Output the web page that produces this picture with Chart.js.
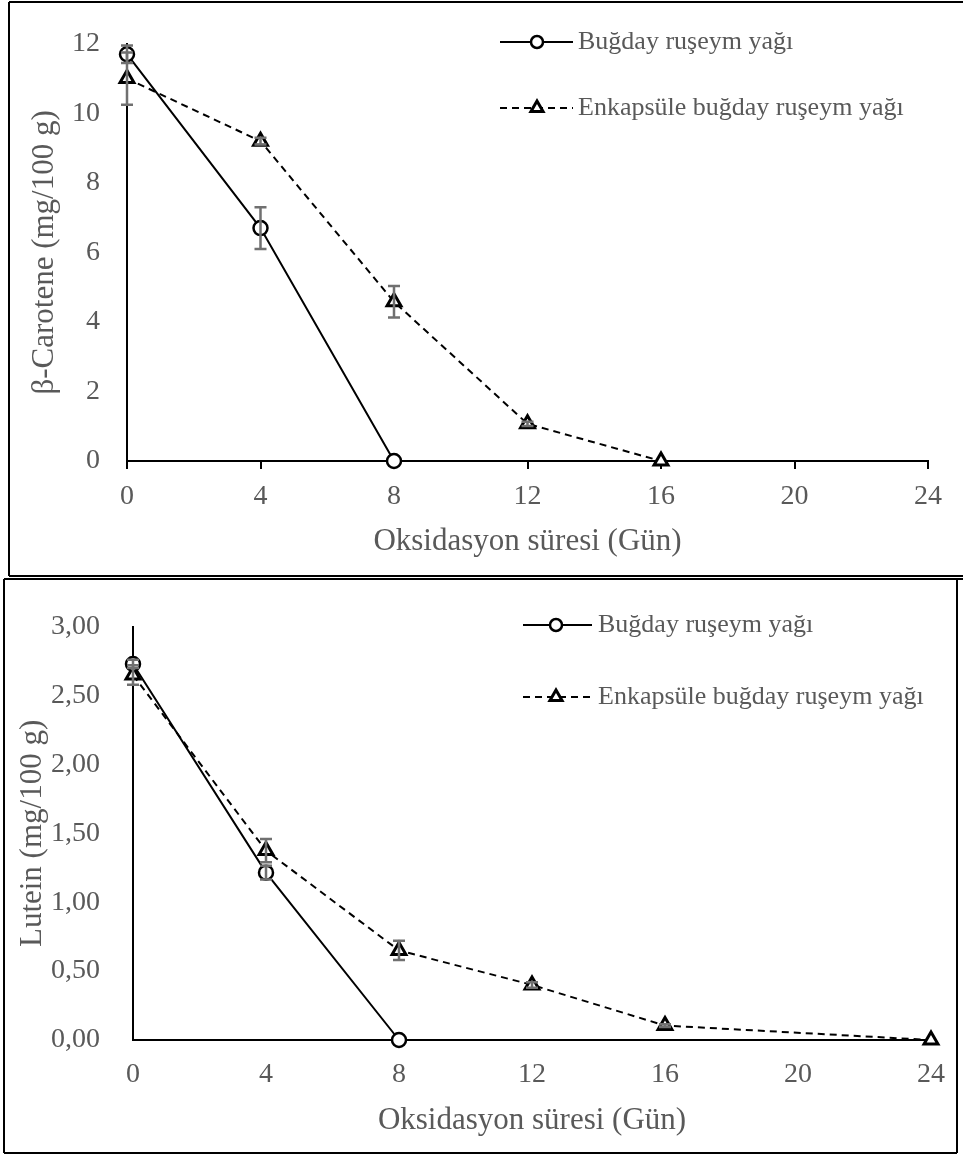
<!DOCTYPE html>
<html>
<head>
<meta charset="utf-8">
<script src="https://cdn.jsdelivr.net/npm/chart.js@4.4.1/dist/chart.umd.min.js"></script>
<style>
  body { margin: 0; background: #fff; }
  canvas { position: absolute; left: 0; }
</style>
</head>
<body>
<canvas id="caroteneChart" width="963" height="577" style="top:0"></canvas>
<canvas id="luteinChart" width="963" height="579" style="top:577px"></canvas>
<script>
// tick labels for the x axis (days)
var dayTicks = [0, 4, 8, 12, 16, 20, 24];
var legendNames = ['Buğday ruşeym yağı', 'Enkapsüle buğday ruşeym yağı'];

// beta carotene (mg/100 g)
var caroteneRawDays = [0, 4, 8];
var caroteneRaw = [11.7, 6.7, 0];
var caroteneRawErr = [0.25, 0.6, 0];
var caroteneEncDays = [0, 4, 8, 12, 16];
var caroteneEnc = [11.0, 9.2, 4.58, 1.07, 0];
var caroteneEncErr = [0.75, 0.1, 0.45, 0.06, 0];

// lutein (mg/100 g)
var luteinRawDays = [0, 4, 8];
var luteinRaw = [2.73, 1.215, 0];
var luteinRawErr = [0.03, 0.05, 0];
var luteinEncDays = [0, 4, 8, 12, 16, 24];
var luteinEnc = [2.65, 1.375, 0.65, 0.40, 0.105, 0];
var luteinEncErr = [0.07, 0.085, 0.07, 0.02, 0.01, 0];

var GREY = '#595959';
var SERIF = '"Liberation Serif", "Times New Roman", serif';

function toPoints(xs, ys) {
  return xs.map(function (x, i) { return { x: x, y: ys[i] }; });
}

// error bars, drawn over the markers like excel does
var errorBars = {
  id: 'errorBars',
  afterDatasetsDraw: function (chart) {
    var ctx = chart.ctx, ys = chart.scales.y, xs = chart.scales.x;
    ctx.save();
    ctx.strokeStyle = '#707070';
    ctx.lineWidth = 2.5;
    chart.data.datasets.forEach(function (ds) {
      if (!ds.errors) return;
      ds.data.forEach(function (p, i) {
        var e = ds.errors[i];
        if (!e) return;
        var x = xs.getPixelForValue(p.x);
        var y1 = ys.getPixelForValue(p.y - e), y2 = ys.getPixelForValue(p.y + e);
        ctx.beginPath();
        ctx.moveTo(x, y1); ctx.lineTo(x, y2);
        ctx.moveTo(x - 6, y1); ctx.lineTo(x + 6, y1);
        ctx.moveTo(x - 6, y2); ctx.lineTo(x + 6, y2);
        ctx.stroke();
      });
    });
    ctx.restore();
  }
};

// legend with line + marker sample
var sketchLegend = {
  id: 'sketchLegend',
  afterDraw: function (chart, args, opts) {
    var ctx = chart.ctx;
    ctx.save();
    chart.data.datasets.forEach(function (ds, i) {
      var y = opts.rows[i];
      ctx.strokeStyle = '#000';
      ctx.lineWidth = 2;
      ctx.setLineDash(ds.borderDash || []);
      ctx.beginPath();
      ctx.moveTo(opts.lineFrom, y);
      ctx.lineTo(opts.lineTo, y);
      ctx.stroke();
      ctx.setLineDash([]);
      ctx.fillStyle = '#fff';
      ctx.strokeStyle = '#000';
      ctx.lineWidth = ds.pointBorderWidth;
      Chart.helpers.drawPoint(ctx, {
        pointStyle: ds.pointStyle, radius: ds.pointRadius - 1,
        borderWidth: ds.pointBorderWidth, rotation: 0
      }, opts.markX, y);
      ctx.fillStyle = GREY;
      ctx.font = opts.fontSize + 'px ' + SERIF;
      ctx.textBaseline = 'middle';
      ctx.fillText(ds.label, opts.textX, y);
    });
    ctx.restore();
  }
};

// frame round each panel
var frame = {
  id: 'frame',
  afterDraw: function (chart, args, opts) {
    var ctx = chart.ctx;
    ctx.save();
    ctx.strokeStyle = '#000';
    ctx.lineWidth = 2;
    opts.lines.forEach(function (l) {
      ctx.beginPath();
      ctx.moveTo(l[0], l[1]);
      ctx.lineTo(l[2], l[3]);
      ctx.stroke();
    });
    ctx.restore();
  }
};

function makeChart(id, s) {
  return new Chart(document.getElementById(id), {
    type: 'line',
    data: {
      datasets: [{
        label: legendNames[0],
        data: toPoints(s.d1, s.v1),
        errors: s.e1,
        borderColor: '#000', borderWidth: 2,
        pointStyle: 'circle', pointRadius: 7, pointBorderWidth: 2.5,
        pointBackgroundColor: '#fff', pointBorderColor: '#000',
        clip: false, fill: false
      }, {
        label: legendNames[1],
        data: toPoints(s.d2, s.v2),
        errors: s.e2,
        borderColor: '#000', borderWidth: 2, borderDash: [7, 5],
        pointStyle: 'triangle', pointRadius: 8, pointBorderWidth: 3,
        pointBackgroundColor: '#fff', pointBorderColor: '#000',
        clip: false, fill: false
      }]
    },
    options: {
      responsive: false,
      animation: false,
      events: [],
      layout: { padding: { left: 0, right: s.padRight, top: s.padTop, bottom: 0 } },
      scales: {
        x: {
          type: 'linear', min: 0, max: 24,
          afterBuildTicks: function (sc) { sc.ticks = dayTicks.map(function (v) { return { value: v }; }); },
          afterFit: function (sc) { sc.height = s.xHeight; },
          border: { display: true, color: '#000', width: 2 },
          grid: { display: true, drawOnChartArea: false, drawTicks: s.xTicks, tickLength: 8, color: '#000', lineWidth: 2 },
          ticks: { padding: s.xPad, color: GREY, font: { family: SERIF, size: 28 }, maxRotation: 0, autoSkip: false },
          title: { display: true, text: 'Oksidasyon süresi (Gün)', color: GREY, font: { family: SERIF, size: 31 }, padding: { top: 0, bottom: 17 } }
        },
        y: {
          min: 0, max: s.yMax,
          afterFit: function (sc) { sc.width = s.yWidth; },
          border: { display: true, color: '#000', width: 2 },
          grid: { display: false, drawTicks: false },
          ticks: { stepSize: s.yStep, padding: s.yPad, color: GREY, font: { family: SERIF, size: 28 }, callback: s.fmt },
          title: { display: true, text: s.yTitle, color: GREY, font: { family: SERIF, size: 31 }, padding: { top: s.yTitlePad, bottom: 0 } }
        }
      },
      plugins: {
        legend: { display: false },
        tooltip: { enabled: false },
        sketchLegend: s.legend,
        frame: { lines: s.frame }
      }
    },
    plugins: [errorBars, sketchLegend, frame]
  });
}

makeChart('caroteneChart', {
  d1: caroteneRawDays, v1: caroteneRaw, e1: caroteneRawErr,
  d2: caroteneEncDays, v2: caroteneEnc, e2: caroteneEncErr,
  yMax: 12, yStep: 2, yTitle: 'β-Carotene (mg/100 g)',
  fmt: function (v) { return String(v); },
  padRight: 35, padTop: 33, xHeight: 116, yWidth: 127, xPad: 11, xTicks: true, yPad: 27, yTitlePad: 26,
  legend: { rows: [42, 108], lineFrom: 500, lineTo: 573, markX: 537, textX: 578, fontSize: 26 },
  frame: [[9, 2, 963, 2], [9, 2, 9, 576], [9, 576, 963, 576]]
});

makeChart('luteinChart', {
  d1: luteinRawDays, v1: luteinRaw, e1: luteinRawErr,
  d2: luteinEncDays, v2: luteinEnc, e2: luteinEncErr,
  yMax: 3, yStep: 0.5, yTitle: 'Lutein (mg/100 g)',
  fmt: function (v) { return v.toFixed(2).replace('.', ','); },
  padRight: 26, padTop: 31, xHeight: 116, yWidth: 133, xPad: 18, xTicks: false, yPad: 33, yTitlePad: 14,
  legend: { rows: [48, 120], lineFrom: 523, lineTo: 592, markX: 556, textX: 598, fontSize: 26 },
  frame: [[4, 2, 963, 2], [4, 2, 4, 576], [4, 576, 957, 576], [957, 2, 957, 576]]
});
</script>
</body>
</html>
